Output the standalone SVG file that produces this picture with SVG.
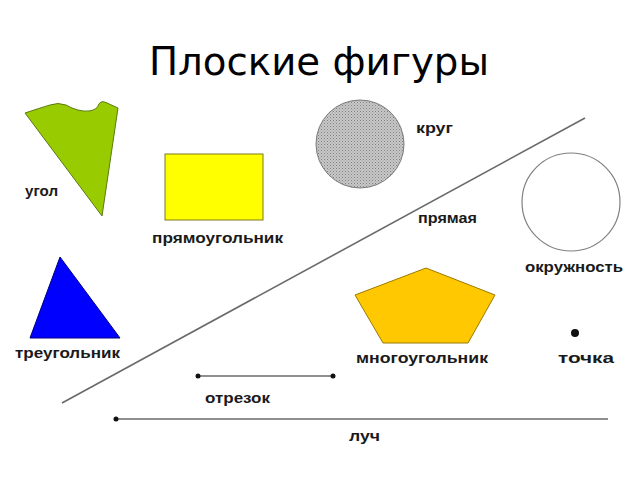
<svg xmlns="http://www.w3.org/2000/svg" width="640" height="480" viewBox="0 0 640 480">
<style>
.lbl{font-family:"Liberation Sans",Arial,sans-serif;font-weight:bold;font-size:15px;fill:#1a1a1a}
.title{font-family:"DejaVu Sans",sans-serif;font-size:39px;fill:#000}
.ln{stroke:#6a6a6a;stroke-width:1.6;fill:none}
</style>
<defs>
<pattern id="dots" width="3" height="3" patternUnits="userSpaceOnUse">
<rect width="3" height="3" fill="#c8c8c8"/>
<rect width="1" height="1" fill="#808080"/>
<rect x="1.5" y="1.5" width="1" height="1" fill="#959595"/>
</pattern>
</defs>
<rect width="640" height="480" fill="#fff"/>
<text class="title" x="149" y="75" textLength="340" lengthAdjust="spacingAndGlyphs">Плоские фигуры</text>
<g id="connectors">
<line id="pryamaya" class="ln" x1="62" y1="403" x2="585" y2="118"/>
<line id="otrezok" class="ln" x1="198" y1="376" x2="333" y2="376"/>
<circle cx="198" cy="376" r="2.5" fill="#111"/>
<circle cx="333" cy="376" r="2.5" fill="#111"/>
<line id="luch" class="ln" x1="116" y1="419" x2="608" y2="419"/>
<circle cx="116" cy="419" r="2.5" fill="#111"/>
</g>
<g id="ugol">
<path d="M25,113 Q40,108 50,105 Q58,102 66,105 Q78,112 89,111 Q97,110 99,104 Q101,100 107,103 L118,108 L102,216 Z" fill="#99cc00" stroke="#5a7a10" stroke-width="1"/>
<text class="lbl" x="25" y="196" textLength="33" lengthAdjust="spacingAndGlyphs">угол</text>
</g>
<g id="pryamougolnik">
<rect x="165" y="154" width="98" height="66" fill="#ffff00" stroke="#7a7a20" stroke-width="1"/>
<text class="lbl" x="152" y="243" textLength="131" lengthAdjust="spacingAndGlyphs">прямоугольник</text>
</g>
<g id="krug">
<circle cx="360" cy="144" r="44" fill="url(#dots)" stroke="#7a7a7a" stroke-width="1"/>
<text class="lbl" x="416" y="133" textLength="37" lengthAdjust="spacingAndGlyphs">круг</text>
</g>
<g id="pryamaya-label">
<text class="lbl" x="418" y="223" textLength="59" lengthAdjust="spacingAndGlyphs">прямая</text>
</g>
<g id="okruzhnost">
<circle cx="571" cy="202" r="49" fill="#fff" stroke="#808080" stroke-width="1.2"/>
<text class="lbl" x="525" y="272" textLength="98" lengthAdjust="spacingAndGlyphs">окружность</text>
</g>
<g id="treugolnik">
<polygon points="60,257 30,338 120,338" fill="#0000ff" stroke="#000080" stroke-width="1"/>
<text class="lbl" x="15" y="358" textLength="105" lengthAdjust="spacingAndGlyphs">треугольник</text>
</g>
<g id="mnogougolnik">
<polygon points="426,268 495,295 468,343 383,343 355,295" fill="#ffc800" stroke="#9a7a00" stroke-width="1"/>
<text class="lbl" x="356" y="363" textLength="132" lengthAdjust="spacingAndGlyphs">многоугольник</text>
</g>
<g id="tochka">
<circle cx="575" cy="333" r="4" fill="#111"/>
<text class="lbl" x="558" y="363" textLength="56" lengthAdjust="spacingAndGlyphs">точка</text>
</g>
<g id="otrezok-label">
<text class="lbl" x="205" y="403" textLength="65" lengthAdjust="spacingAndGlyphs">отрезок</text>
</g>
<g id="luch-label">
<text class="lbl" x="349" y="441" textLength="31" lengthAdjust="spacingAndGlyphs">луч</text>
</g>
</svg>
